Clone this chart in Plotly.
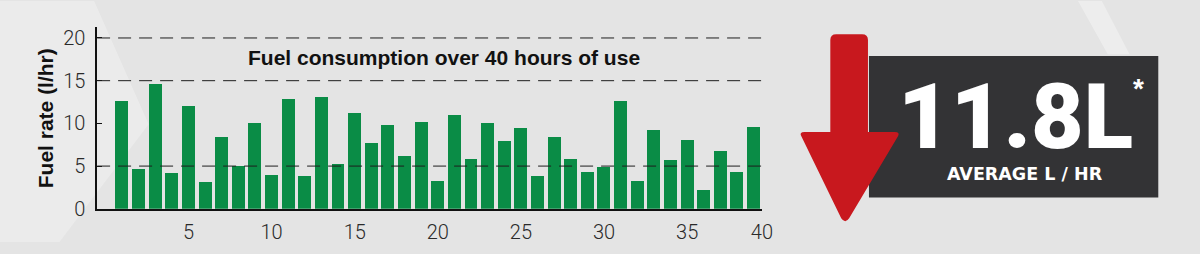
import plotly.graph_objects as go

# ---------------- data ----------------
hours = list(range(1, 40))
fuel_rate = [12.7, 4.7, 14.6, 4.2, 12.1, 3.2, 8.5, 5.0, 10.1, 4.0,
             12.9, 3.9, 13.1, 5.3, 11.3, 7.8, 9.9, 6.2, 10.2, 3.3,
             11.0, 5.9, 10.1, 8.0, 9.5, 3.9, 8.5, 5.9, 4.4, 4.9,
             12.7, 3.3, 9.3, 5.7, 8.1, 2.2, 6.8, 4.3, 9.6]
y_tick_vals = [0, 5, 10, 15, 20]
x_tick_vals = [5, 10, 15, 20, 25, 30, 35, 39.5]
x_tick_text = ["5", "10", "15", "20", "25", "30", "35", "40"]
grid_levels = [5, 15, 20]
chart_title = "Fuel consumption over 40 hours of use"
y_title = "Fuel rate (l/hr)"
avg_value = "11.8L"
avg_label = "AVERAGE L / HR"

# ---------------- layout helpers ----------------
W, H = 1200, 254


def px(x):
    return x / W


def py(y):
    return 1 - y / H


BG = "#e4e4e4"
GREEN = "#0a8c46"
RED = "#c8181e"
DARK = "#333335"
FONT = "Liberation Sans"

fig = go.Figure()
fig.add_trace(go.Bar(x=hours, y=fuel_rate, width=0.78,
                     marker=dict(color=GREEN, line=dict(width=0)),
                     hoverinfo="x+y"))

shapes = []
# subtle light streaks in the background
shapes.append(dict(type="path", xref="paper", yref="paper", layer="below",
                   path=f"M 0,{py(0)} L {px(95)},{py(0)} L {px(150)},{py(130)} L {px(60)},{py(254)} L 0,{py(254)} Z",
                   fillcolor="rgba(255,255,255,0.28)", line=dict(width=0)))
shapes.append(dict(type="path", xref="paper", yref="paper", layer="below",
                   path=f"M {px(1088)},{py(0)} L {px(1112)},{py(0)} L {px(1140)},{py(56)} L {px(1118)},{py(56)} Z",
                   fillcolor="rgba(255,255,255,0.35)", line=dict(width=0)))

# dashed reference lines (drawn over the bars)
for g in grid_levels:
    shapes.append(dict(type="line", xref="x", yref="y", layer="above",
                       x0=-0.5, x1=39.5, y0=g, y1=g,
                       line=dict(color="#1e1e1e", width=1, dash="13px,8px")))

# dark badge
shapes.append(dict(type="rect", xref="paper", yref="paper", layer="above",
                   x0=px(877), x1=px(1169), y0=py(207), y1=py(58),
                   fillcolor=DARK, line=dict(width=0)))


def P(x, y):
    return f"{px(x)},{py(y)}"


# red down arrow
arrow = (f"M {P(838,41)} Q {P(838,35)} {P(844,35)} L {P(870,35)} Q {P(876,35)} {P(876,41)} "
         f"L {P(876,138)} L {P(903,138)} Q {P(909,138)} {P(906,143)} "
         f"L {P(857,229)} Q {P(853,235)} {P(849,229)} "
         f"L {P(809,143)} Q {P(806,138)} {P(812,138)} L {P(838,138)} Z")
shapes.append(dict(type="path", xref="paper", yref="paper", layer="above",
                   path=arrow, fillcolor=RED, line=dict(width=0)))

annotations = [
    dict(text=f"<b>{chart_title}</b>", x=px(448), y=py(60), xref="paper", yref="paper",
         showarrow=False, xanchor="center", yanchor="middle",
         font=dict(family=FONT, size=21, color="#111")),
    dict(text=f"<b>{y_title}</b>", x=px(46), y=py(124), xref="paper", yref="paper",
         showarrow=False, xanchor="center", yanchor="middle", textangle=-90,
         font=dict(family=FONT, size=21, color="#111")),
    dict(text=avg_value, x=px(1025), y=py(122), xref="paper", yref="paper",
         showarrow=False, xanchor="center", yanchor="middle", height=86,
         valign="middle", borderpad=0,
         font=dict(family="Roboto", size=91, color="white", weight=900)),
    dict(text="<b>*</b>", x=px(1149), y=py(92), xref="paper", yref="paper",
         showarrow=False, xanchor="center", yanchor="middle", borderpad=0,
         font=dict(family=FONT, size=28, color="white")),
    dict(text=f"<b>{avg_label}</b>", x=px(1034), y=py(182), xref="paper", yref="paper",
         showarrow=False, xanchor="center", yanchor="middle", borderpad=0,
         font=dict(family="DejaVu Sans", size=17.5, color="white")),
]

# initial size leaves room for the default 8px body margin; the post script
# removes the margin and restores the full 1200x254 size.
fig.update_layout(
    width=W - 16, height=H - 16, margin=dict(l=0, r=0, t=0, b=0),
    paper_bgcolor=BG, plot_bgcolor="rgba(0,0,0,0)",
    showlegend=False, bargap=0,
    shapes=shapes, annotations=annotations,
    xaxis=dict(domain=[px(98), px(769)], range=[-0.5, 39.5],
               tickvals=x_tick_vals, ticktext=x_tick_text, ticks="",
               showgrid=False, zeroline=False, showline=True,
               linecolor="#111", linewidth=1.5, ticklabelstandoff=4,
               tickfont=dict(family="Roboto", size=20, color="#2a2a2a", weight=300),
               fixedrange=True),
    yaxis=dict(domain=[1 - 219 / H, 1 - 27 / H], range=[0, 21.33],
               tickvals=y_tick_vals, ticks="inside", ticklen=5, tickwidth=1,
               tickcolor="#111", showgrid=False, zeroline=False, showline=True,
               linecolor="#111", linewidth=1.5, ticklabelstandoff=6,
               tickfont=dict(family="Roboto", size=20, color="#2a2a2a", weight=300),
               fixedrange=True),
)

post = """
document.documentElement.style.margin='0';
document.body.style.margin='0';
document.body.style.overflow='hidden';
document.body.style.background='%s';
var gd=document.getElementById('{plot_id}');
gd.style.width='%dpx'; gd.style.height='%dpx';
Plotly.relayout(gd,{width:%d,height:%d});
""" % (BG, W, H, W, H)
fig.write_html("out.html", post_script=post)
